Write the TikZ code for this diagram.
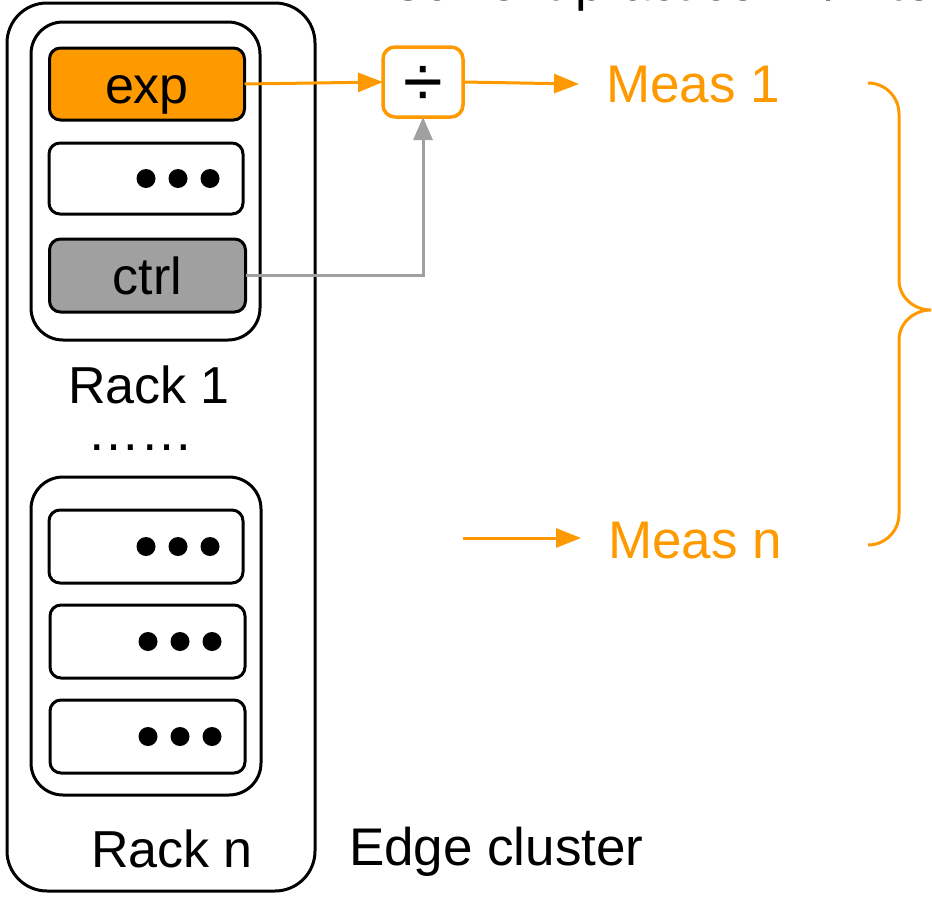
\documentclass[tikz,border=0pt]{standalone}
\usepackage{fontspec}
\setmainfont{Liberation Sans}
\usetikzlibrary{arrows.meta}
\definecolor{accent}{HTML}{FF9900}
\definecolor{greyfill}{HTML}{A0A0A0}
\definecolor{greyline}{HTML}{A0A0A0}

\begin{document}
\begin{tikzpicture}[x=1pt,y=-1pt,
  every node/.style={inner sep=0pt, outer sep=0pt},
  bigtext/.style={font=\fontsize{52pt}{60pt}\selectfont},
  widetext/.style={font=\fontsize{53pt}{62pt}\selectfont},
  frame/.style={draw, line width=3pt, rounded corners=#1},
  server/.style={frame=11pt, minimum width=195pt, minimum height=72pt,
                 text height=38pt, text depth=0pt,
                 font=\fontsize{52pt}{60pt}\selectfont},
  flow/.style={draw=accent, line width=3pt,
               -{Triangle[length=25pt,width=19pt]}},
  ctrlflow/.style={draw=greyline, line width=3pt,
               -{Triangle[length=23pt,width=19pt]}},
  dot/.style={fill=black}
]
\clip (0,0) rectangle (932,897);

% heading, partly outside the page
\node[bigtext, anchor=base west] (title) at (388,0.5) {Current practice: A/B testing};

% edge cluster and its racks
\node[frame=40pt, minimum width=308pt, minimum height=888pt] (cluster) at (161,447) {};
\node[frame=32pt, minimum width=229pt, minimum height=318pt] (rackA) at (145.5,181) {};
\node[frame=32pt, minimum width=230pt, minimum height=318pt] (rackB) at (146,636) {};

% servers of rack 1
\node[server, fill=accent, minimum width=195pt] (exp) at (147,84) {exp};
\node[server, minimum width=194pt, minimum height=71pt] (d1) at (146,178.5) {};
\node[server, fill=greyfill, minimum width=196pt, minimum height=73pt] (ctrl) at (147.5,275.5) {ctrl};

% servers of rack n
\node[server, minimum width=194pt, minimum height=73pt] (b1) at (146,546.5) {};
\node[server, minimum width=195pt, minimum height=73pt] (b2) at (147.5,641.5) {};
\node[server, minimum width=195pt, minimum height=73pt] (b3) at (147.5,736.5) {};

\foreach \b in {d1,b1,b2,b3}
  \foreach \dx in {33,65,97}
    \fill[dot] ([xshift=-\dx pt]\b.east) circle[radius=9.5pt];

% labels
\node[bigtext, anchor=base] (lblA) at (149,403) {Rack 1};
\node[widetext, anchor=base] (gap) at (140.5,450) {……};
\node[bigtext, anchor=base] (lblB) at (172,867) {Rack n};
\node[widetext, anchor=base west] (lblC) at (349,865) {Edge cluster};

% ratio of experiment over control
\node[draw=accent, line width=3.5pt, rounded corners=12pt,
      minimum width=80pt, minimum height=70pt,
      text height=48pt, text depth=0pt,
      font=\fontsize{72pt}{80pt}\selectfont] (div) at (423,82) {÷};

\node[widetext, text=accent, anchor=base west, inner xsep=27pt] (meas1) at (579,102) {Meas 1};
\node[widetext, text=accent, anchor=base west, inner xsep=27pt] (measn) at (581,558) {Meas n};
\coordinate (srcn) at (463,538);

\draw[flow] (exp.east) -- (div.west);
\draw[flow] (div.east) -- (meas1.west);
\draw[ctrlflow] (ctrl.east) -| (div.south);
\draw[flow] (srcn) -- (srcn -| measn.west);

% brace gathering the measurements
\draw[accent, line width=3pt]
  (868,83) to[out=0,in=90] (899,114) -- (899,280)
  to[out=-90,in=180] (931,310) to[out=180,in=90] (899,340)
  -- (899,514) to[out=-90,in=0] (868,545);
\end{tikzpicture}
\end{document}
